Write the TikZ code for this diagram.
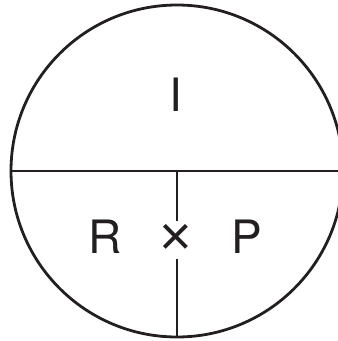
\documentclass[tikz,border=0pt]{standalone}
\usepackage{fontspec}
\setmainfont{TeX Gyre Heros}
\newfontfamily\signfont{Liberation Sans}
\definecolor{ink}{HTML}{231F20}
\begin{document}
\begin{tikzpicture}[x=1pt, y=-1pt, line width=2.8pt, draw=ink,
  every node/.style={font=\fontsize{46}{46}\selectfont, text=ink, inner sep=0pt}]
  \clip (0,0) rectangle (338,341);
  \coordinate (centre) at (177,171);
  \coordinate (west) at (11,171);
  \coordinate (east) at (343,171);
  \coordinate (south) at (177,337);
  \draw[ink] (centre) circle[radius=166];
  \draw[ink] (west) -- (east);
  \draw[ink] (centre) -- (south);
  \node (inc) at (176,95) {I};
  \node (rate) at (105,237) {R};
  \node[fill=white, inner xsep=1pt, inner ysep=3pt, font=\signfont\fontsize{56}{56}\selectfont] (times) at (176,240) {×};
  \node (prin) at (247,237) {P};
\end{tikzpicture}
\end{document}
